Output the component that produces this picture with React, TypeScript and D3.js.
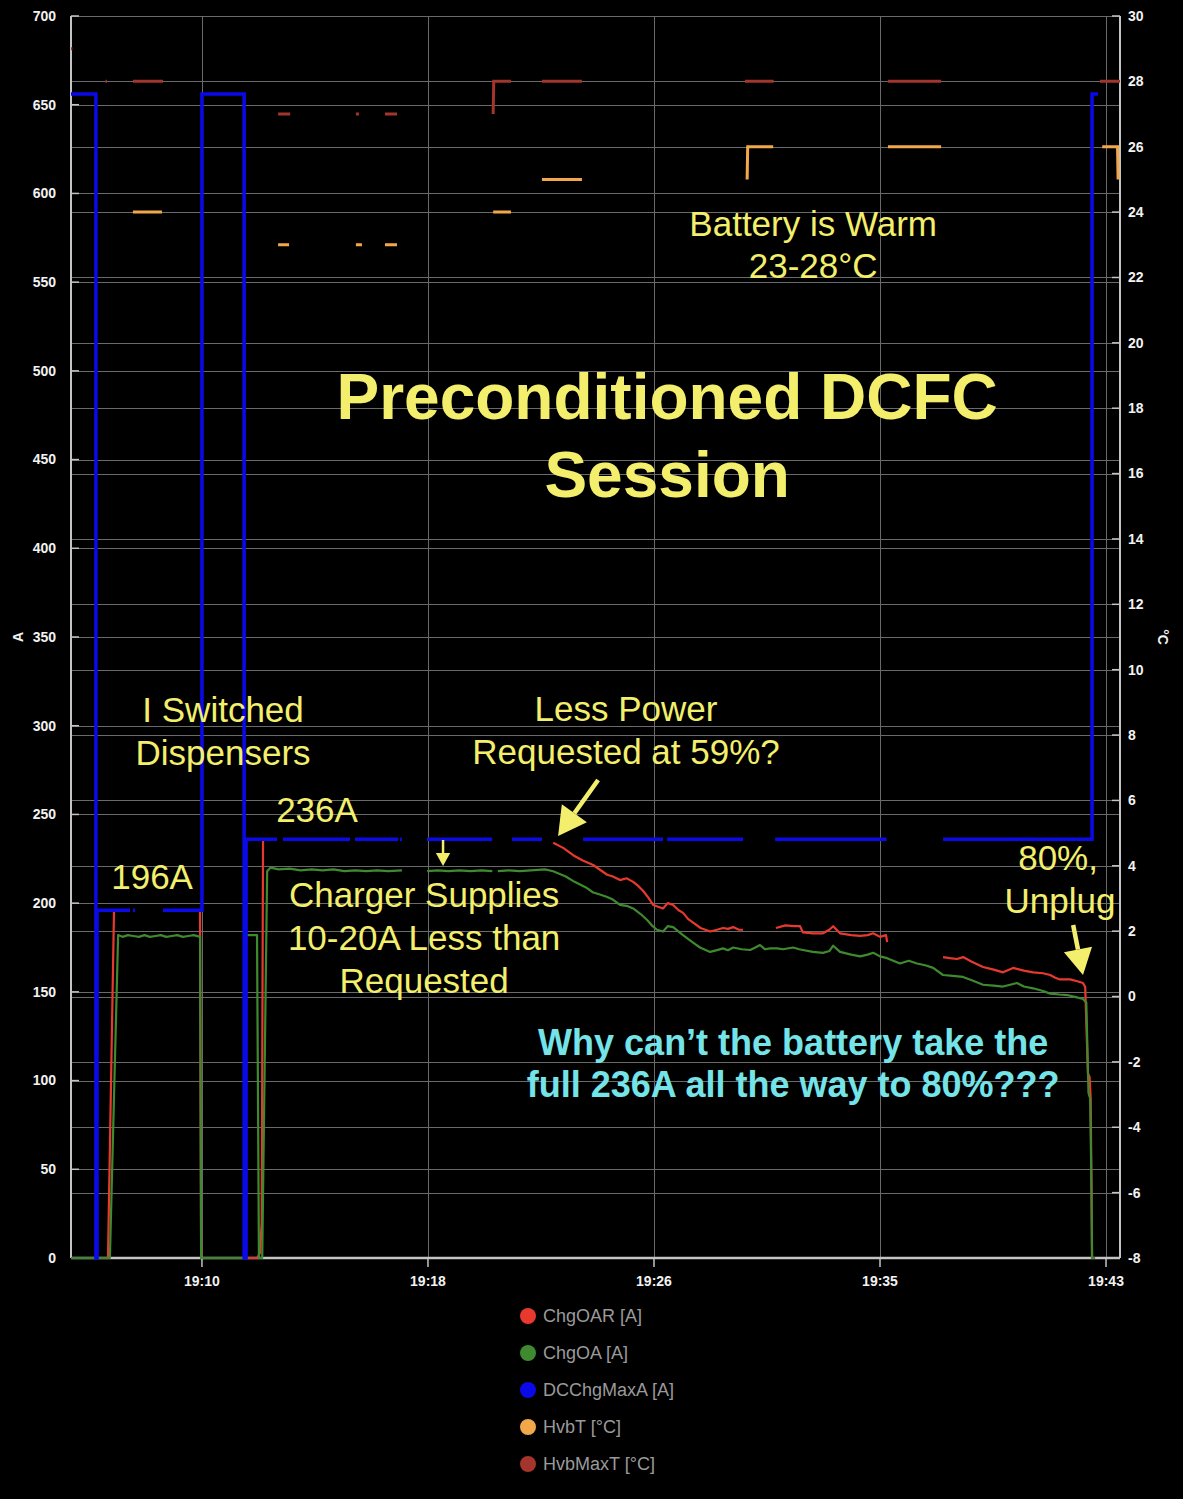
import React, { useEffect, useRef } from 'react';
import * as d3 from 'd3';

type Pt = [number, number | null];

// time is minutes after 19:00
const xTickValues = [10, 18.25, 26.5, 34.75, 43];
const xTickLabels = ['19:10', '19:18', '19:26', '19:35', '19:43'];
const ampTicks = d3.range(0, 701, 50);
const tempTicks = d3.range(-8, 31, 2);

const chgOAR: Pt[] = [
  [5.22, 0], [6.57, 0], [6.79, 196], [7.37, 196], [7.4, null], [8.58, 196], [9.93, 196], [9.97, 0],
  [12.02, 0], [12.12, 3], [12.18, 20], [12.23, 236], [12.74, 236], [12.85, null], [12.96, 236], [15.4, 236],
  [15.5, null], [15.59, 236], [17.16, 236], [17.2, null], [18.22, 236], [20.59, 236], [21.0, null],
  [21.32, 236], [22.41, 236], [22.6, null],
  [22.82, 234], [23.2, 231], [23.55, 227], [23.9, 224], [24.28, 221.5], [24.79, 216], [25.0, 215],
  [25.26, 213], [25.5, 214], [25.74, 212], [25.9, 210], [26.1, 207], [26.3, 203], [26.47, 199],
  [26.65, 198], [26.83, 197], [27.0, 200], [27.2, 199], [27.4, 196], [27.56, 194.5], [27.75, 191],
  [27.93, 189], [28.2, 186], [28.55, 184], [28.8, 185], [29.02, 186], [29.2, 185.5], [29.39, 186.5],
  [29.6, 185], [29.75, 185], [29.85, null],
  [30.95, 186], [31.3, 187.5], [31.6, 187], [31.83, 187], [31.94, 183.5], [32.3, 183], [32.67, 183],
  [32.9, 185], [33.04, 187], [33.29, 183], [33.7, 182], [34.02, 181.5], [34.3, 182], [34.5, 183],
  [34.75, 181], [34.97, 182], [35.01, 178], [35.2, null],
  [37.05, 169.6], [37.3, 169], [37.56, 168.5], [37.78, 169.6], [38.1, 167], [38.51, 164],
  [38.9, 162.5], [39.24, 161], [39.61, 163.5], [40.0, 162], [40.34, 161], [40.7, 160.5],
  [40.96, 159.5], [41.15, 158], [41.32, 157], [41.69, 157], [41.95, 156], [42.16, 155], [42.24, 152.7],
  [42.34, 104], [42.4, 102], [42.44, 90], [42.49, 0], [42.6, 0],
];

const chgOA: Pt[] = [
  [5.22, 0], [6.64, 0], [6.94, 182], [7.1, 181], [7.3, 182], [7.5, 181.5], [7.7, 181], [7.9, 182],
  [8.1, 181], [8.3, 181.5], [8.5, 182], [8.7, 181], [8.9, 181.5], [9.1, 182], [9.3, 181],
  [9.5, 181.5], [9.7, 182], [9.93, 181], [9.97, 0],
  [11.57, 0], [11.6, 182], [12.01, 182], [12.08, 0], [12.2, 0], [12.38, 218], [12.5, 220],
  [12.8, 219], [13.2, 219.5], [13.6, 218.5], [14.0, 219], [14.4, 218.5], [14.8, 219], [15.2, 218],
  [15.6, 218.5], [16.0, 218], [16.4, 218.5], [16.8, 218], [17.3, 218.5], [17.35, null],
  [18.22, 218], [18.6, 218.5], [19.0, 218], [19.4, 218.5], [19.8, 218], [20.2, 218.5], [20.6, 218],
  [20.7, null], [20.8, 218], [21.2, 218.5], [21.6, 218], [22.0, 218.5], [22.52, 219],
  [22.82, 218], [23.28, 215], [23.6, 212], [24.0, 209], [24.28, 206], [24.5, 205], [24.79, 203.5],
  [25.0, 202], [25.26, 199], [25.5, 198.5], [25.74, 197], [26.0, 194], [26.25, 190.5], [26.45, 187],
  [26.61, 185], [26.83, 184], [27.0, 187], [27.2, 186.5], [27.4, 184], [27.56, 182], [27.9, 178],
  [28.18, 175], [28.55, 172.5], [28.8, 173.5], [29.02, 174.5], [29.2, 173.5], [29.39, 175],
  [29.7, 174], [30.01, 173.6], [30.2, 175], [30.37, 176.4], [30.55, 174], [30.74, 174.5],
  [31.0, 174.5], [31.21, 174], [31.58, 175], [31.8, 174], [31.94, 173.6], [32.3, 172.5], [32.67, 172],
  [32.9, 173], [33.04, 176], [33.29, 172.5], [33.7, 171], [34.02, 170], [34.3, 171], [34.5, 172],
  [34.75, 170], [35.01, 169], [35.48, 166], [35.8, 167.5], [36.1, 166], [36.4, 165], [36.69, 163.5],
  [37.05, 159.5], [37.4, 159], [37.78, 158.4], [38.1, 156.5], [38.51, 154], [38.9, 153.5],
  [39.24, 153], [39.5, 154], [39.75, 155], [40.0, 153], [40.34, 152], [40.7, 150.5], [40.96, 149],
  [41.3, 148.5], [41.58, 148.2], [41.9, 147], [42.16, 146], [42.28, 144], [42.36, 93], [42.42, 90],
  [42.47, 40], [42.49, 0], [42.6, 0],
];

const dcChgMaxA: Pt[] = [
  [5.22, 656], [6.13, 0], [6.17, 196], [7.37, 196], [7.4, null], [7.48, 196], [7.56, 196], [7.6, null],
  [8.58, 196], [10.0, 656], [11.54, 0], [11.61, 236], [12.74, 236], [12.8, null], [12.96, 236],
  [15.4, 236], [15.5, null], [15.59, 236], [17.16, 236], [17.2, null], [17.23, 236], [17.3, 236],
  [17.4, null], [18.22, 236], [20.59, 236], [20.7, null], [21.32, 236], [22.41, 236], [22.5, null],
  [23.91, 236], [26.83, 236], [26.9, null], [26.98, 236], [29.75, 236], [29.8, null], [30.92, 236],
  [34.99, 236], [35.1, null], [37.05, 236], [42.49, 656], [42.71, 656],
];

const hvbT: Pt[] = [
  [7.48, 24], [8.54, 24], [8.6, null], [12.78, 23], [13.18, 23], [13.2, null], [15.62, 23], [15.84, 23],
  [15.9, null], [16.68, 23], [17.12, 23], [17.2, null], [20.63, 24], [21.28, 24], [21.3, null],
  [22.41, 25], [23.87, 25], [23.9, null], [29.9, 25], [29.92, 26], [30.85, 26], [30.9, null],
  [35.04, 26], [36.98, 26], [37.0, null], [42.86, 26], [43.42, 26], [43.44, 25],
];

const hvbMaxT: Pt[] = [
  [5.22, 29], [5.27, 29], [5.3, null], [6.48, 28], [6.53, 28], [6.6, null], [7.48, 28], [8.58, 28],
  [8.6, null], [12.78, 27], [13.22, 27], [13.3, null], [15.62, 27], [15.73, 27], [15.8, null],
  [16.68, 27], [17.12, 27], [17.2, null], [20.63, 27], [20.65, 28], [21.28, 28], [21.3, null],
  [22.41, 28], [23.87, 28], [23.9, null], [29.82, 28], [30.87, 28], [30.9, null], [35.04, 28],
  [36.98, 28], [37.0, null], [42.78, 28], [43.51, 28],
];

const legendNames = ['ChgOAR [A]', 'ChgOA [A]', 'DCChgMaxA [A]', 'HvbT [°C]', 'HvbMaxT [°C]'];
const legendColors = ['#e8392e', '#3f8a2f', '#0a0ae8', '#f2a84a', '#a3352d'];

const yellow = '#f3ef6c';
const cyan = '#74e4e8';

// [text, minute, amps (baseline), size, weight, color]
const notes: [string, number, number, number, string, string][] = [
  ['Battery is Warm', 32.31, 576, 35, 'normal', yellow],
  ['23-28°C', 32.31, 552.3, 35, 'normal', yellow],
  ['Preconditioned DCFC', 26.98, 472.9, 64, 'bold', yellow],
  ['Session', 26.98, 428.9, 64, 'bold', yellow],
  ['I Switched', 10.77, 302.1, 35, 'normal', yellow],
  ['Dispensers', 10.77, 277.9, 35, 'normal', yellow],
  ['196A', 8.18, 208, 35, 'normal', yellow],
  ['236A', 14.2, 245.7, 35, 'normal', yellow],
  ['Less Power', 25.48, 302.7, 35, 'normal', yellow],
  ['Requested at 59%?', 25.48, 278.4, 35, 'normal', yellow],
  ['Charger Supplies', 18.11, 197.8, 35, 'normal', yellow],
  ['10-20A Less than', 18.11, 173.6, 35, 'normal', yellow],
  ['Requested', 18.11, 149.4, 35, 'normal', yellow],
  ['80%,', 41.25, 218.7, 35, 'normal', yellow],
  ['Unplug', 41.32, 194.4, 35, 'normal', yellow],
  ['Why can’t the battery take the', 31.58, 114.4, 36, 'bold', cyan],
  ['full 236A all the way to 80%???', 31.58, 90.7, 36, 'bold', cyan],
];

// [tail minute, tail amps, tip minute, tip amps, head size]
const arrows: [number, number, number, number, number][] = [
  [24.46, 269.4, 23.0, 237.8, 28],
  [18.8, 235.6, 18.8, 220.9, 13],
  [41.8, 187.7, 42.16, 159.5, 26],
];

const FONT = "'Liberation Sans', Arial, Helvetica, sans-serif";

const App = () => {
  const svgRef = useRef<SVGSVGElement>(null);

  useEffect(() => {
    document.body.style.margin = '0';
    document.body.style.background = '#000';
    if (!svgRef.current) return;
    const W = 1183, H = 1499;
    const svg = d3.select(svgRef.current);
    svg.selectAll('*').remove();

    const x = d3.scaleLinear().domain([5.22, 43.51]).range([71, 1120]);
    const yA = d3.scaleLinear().domain([0, 700]).range([1258, 16]);
    const yC = d3.scaleLinear().domain([-8, 30]).range([1258, 16]);
    const [x0, x1] = x.range();
    const [yb, yt] = yA.range();

    svg.append('rect').attr('width', W).attr('height', H).attr('fill', '#000');

    const grid = svg.append('g').attr('stroke', '#6a6a6a').attr('stroke-width', 1).attr('shape-rendering', 'crispEdges');
    grid.selectAll('.ga').data(ampTicks).join('line')
      .attr('x1', x0).attr('x2', x1).attr('y1', d => Math.round(yA(d)) + 0.5).attr('y2', d => Math.round(yA(d)) + 0.5);
    grid.selectAll('.gc').data(tempTicks).join('line')
      .attr('x1', x0).attr('x2', x1).attr('y1', d => Math.round(yC(d)) + 0.5).attr('y2', d => Math.round(yC(d)) + 0.5);
    grid.selectAll('.gx').data(xTickValues).join('line')
      .attr('x1', d => Math.round(x(d)) + 0.5).attr('x2', d => Math.round(x(d)) + 0.5).attr('y1', yt).attr('y2', yb);

    // axes
    const ax = svg.append('g').attr('stroke', '#c4c4c4');
    ax.append('line').attr('x1', x0).attr('x2', x0).attr('y1', yt).attr('y2', yb).attr('stroke-width', 2);
    ax.append('line').attr('x1', x1).attr('x2', x1).attr('y1', yt).attr('y2', yb).attr('stroke-width', 2);
    ax.append('line').attr('x1', x0).attr('x2', x1).attr('y1', yb).attr('y2', yb).attr('stroke-width', 2.5);
    ax.selectAll('.ta').data(ampTicks).join('line').attr('stroke-width', 1.5)
      .attr('x1', x0).attr('x2', x0 + 8).attr('y1', d => yA(d)).attr('y2', d => yA(d));
    ax.selectAll('.tc').data(tempTicks).join('line').attr('stroke-width', 1.5)
      .attr('x1', x1 - 8).attr('x2', x1).attr('y1', d => yC(d)).attr('y2', d => yC(d));
    ax.selectAll('.tx').data(xTickValues).join('line').attr('stroke-width', 1.5)
      .attr('x1', d => x(d)).attr('x2', d => x(d)).attr('y1', yb).attr('y2', yb + 9);

    const labels = svg.append('g').attr('font-family', FONT).attr('font-size', 14).attr('font-weight', 'bold').attr('fill', '#f2f2f2');
    labels.selectAll('.la').data(ampTicks).join('text')
      .attr('x', 56).attr('y', d => yA(d)).attr('dy', '0.35em').attr('text-anchor', 'end').text(d => d);
    labels.selectAll('.lc').data(tempTicks).join('text')
      .attr('x', 1128).attr('y', d => yC(d)).attr('dy', '0.35em').text(d => d);
    labels.selectAll('.lx').data(xTickValues).join('text')
      .attr('x', d => x(d)).attr('y', 1286).attr('text-anchor', 'middle').text((d, i) => xTickLabels[i]);
    labels.append('text').attr('transform', `translate(18,${yA(350)}) rotate(-90)`).attr('text-anchor', 'middle').attr('dy', '0.35em').text('A');
    labels.append('text').attr('transform', `translate(1163,${yA(350)}) rotate(90)`).attr('text-anchor', 'middle').attr('dy', '0.35em').text('°C');

    const lineA = d3.line<Pt>().defined(d => d[1] != null).x(d => x(d[0])).y(d => yA(d[1] as number));
    const lineStep = d3.line<Pt>().defined(d => d[1] != null).x(d => x(d[0])).y(d => yA(d[1] as number)).curve(d3.curveStepAfter);
    const lineC = d3.line<Pt>().defined(d => d[1] != null).x(d => x(d[0])).y(d => yC(d[1] as number));

    const plot = svg.append('g').attr('fill', 'none').attr('stroke-linejoin', 'round');
    plot.append('path').attr('d', lineA(chgOAR)).attr('stroke', legendColors[0]).attr('stroke-width', 2.2);
    plot.append('path').attr('d', lineA(chgOA)).attr('stroke', legendColors[1]).attr('stroke-width', 2.2);
    plot.append('path').attr('d', lineStep(dcChgMaxA)).attr('stroke', legendColors[2]).attr('stroke-width', 3.5).attr('stroke-linejoin', 'miter');
    plot.append('path').attr('d', lineC(hvbT)).attr('stroke', legendColors[3]).attr('stroke-width', 3).attr('stroke-linejoin', 'miter');
    plot.append('path').attr('d', lineC(hvbMaxT)).attr('stroke', legendColors[4]).attr('stroke-width', 3).attr('stroke-linejoin', 'miter');

    // annotations
    const ann = svg.append('g').attr('font-family', FONT);
    ann.selectAll('text').data(notes).join('text')
      .attr('x', d => x(d[1])).attr('y', d => yA(d[2])).attr('text-anchor', 'middle')
      .attr('font-size', d => d[3]).attr('font-weight', d => d[4]).attr('fill', d => d[5]).text(d => d[0]);

    const arr = svg.append('g').attr('fill', yellow).attr('stroke', yellow);
    arrows.forEach(([t0, a0, t1, a1, hs]) => {
      const px0 = x(t0), py0 = yA(a0), px1 = x(t1), py1 = yA(a1);
      const ang = Math.atan2(py1 - py0, px1 - px0);
      const bx = px1 - hs * Math.cos(ang), by = py1 - hs * Math.sin(ang);
      const w = hs * 0.55;
      arr.append('line').attr('x1', px0).attr('y1', py0).attr('x2', bx).attr('y2', by)
        .attr('stroke-width', hs > 20 ? 4.5 : 2.5);
      arr.append('polygon').attr('stroke', 'none')
        .attr('points', [
          [px1, py1],
          [bx + w * Math.sin(ang), by - w * Math.cos(ang)],
          [bx - w * Math.sin(ang), by + w * Math.cos(ang)],
        ].map(p => p.join(',')).join(' '));
    });

    // legend
    const lg = svg.append('g').attr('font-family', FONT).attr('font-size', 18);
    const rows = lg.selectAll('g').data(legendNames).join('g')
      .attr('transform', (d, i) => `translate(528,${1316 + i * 37})`);
    rows.append('circle').attr('r', 8).attr('fill', (d, i) => legendColors[i]);
    rows.append('text').attr('x', 15).attr('dy', '0.35em').attr('fill', '#9a9a9a').text(d => d);
  }, []);

  return <svg ref={svgRef} width={1183} height={1499} style={{ display: 'block' }} />;
};

export default App;
